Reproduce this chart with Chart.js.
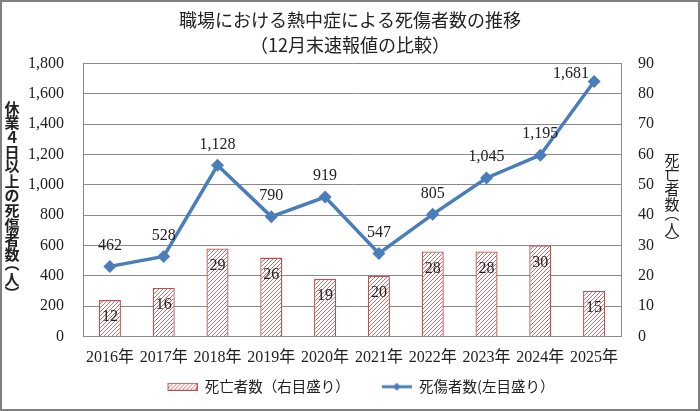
<!DOCTYPE html>
<html>
<head>
<meta charset="utf-8">
<script src="https://cdn.jsdelivr.net/npm/chart.js@4"></script>
<style>
html,body{margin:0;padding:0;background:#fff;}
#wrap{width:700px;height:411px;position:relative;}
</style>
</head>
<body>
<div id="wrap"><canvas id="c" width="700" height="411"></canvas></div>
<script>
// ---- data ----
const categories = ['2016年','2017年','2018年','2019年','2020年','2021年','2022年','2023年','2024年','2025年'];
const deaths = [12, 16, 29, 26, 19, 20, 28, 28, 30, 15];
const casualties = [462, 528, 1128, 790, 919, 547, 805, 1045, 1195, 1681];
const leftTicks = [0, 200, 400, 600, 800, 1000, 1200, 1400, 1600, 1800];
const rightTicks = [0, 10, 20, 30, 40, 50, 60, 70, 80, 90];
const titleLines = ['職場における熱中症による死傷者数の推移', '（12月末速報値の比較）'];
const deathsLabel = '死亡者数（右目盛り）';
const casualtiesLabel = '死傷者数(左目盛り）';
const leftAxisTitle = '休業４日以上の死傷者数︵人︶';
const rightAxisTitle = '死亡者数︵人︶';

const SERIF = "'Liberation Serif', 'Noto Sans CJK JP', serif";
const SANS = "'Noto Sans CJK JP', sans-serif";
const LINE_COLOR = '#4a7ebb';
const BAR_BORDER = '#c0504d';
const GRID = '#8a8a8a';

function hatch() {
  const c = document.createElement('canvas');
  c.width = 4; c.height = 4;
  const x = c.getContext('2d');
  x.fillStyle = '#ffffff'; x.fillRect(0,0,4,4);
  x.fillStyle = '#c27070';
  for (let i = 0; i < 4; i++) x.fillRect(i, 3 - i, 1, 1);
  return x.createPattern(c,'repeat');
}
const pattern = hatch();

function legendBarIcon() {
  const c = document.createElement('canvas');
  c.width = 52; c.height = 8;
  const x = c.getContext('2d');
  x.fillStyle = pattern; x.fillRect(22,0,30,8);
  x.strokeStyle = BAR_BORDER; x.lineWidth = 1; x.strokeRect(22.5,0.5,29,7);
  return c;
}
function legendLineIcon() {
  const c = document.createElement('canvas');
  c.width = 52; c.height = 12;
  const x = c.getContext('2d');
  x.strokeStyle = LINE_COLOR; x.lineWidth = 3;
  x.beginPath(); x.moveTo(22,6); x.lineTo(52,6); x.stroke();
  x.fillStyle = LINE_COLOR;
  x.beginPath(); x.moveTo(37,2); x.lineTo(41,6); x.lineTo(37,10); x.lineTo(33,6); x.closePath(); x.fill();
  return c;
}

const decor = {
  id: 'decor',
  beforeDraw(chart) {
    const ctx = chart.ctx;
    ctx.save(); ctx.fillStyle = '#fff'; ctx.fillRect(0,0,chart.width,chart.height); ctx.restore();
  },
  afterDatasetsDraw(chart) {
    const ctx = chart.ctx;
    ctx.save();
    ctx.fillStyle = '#222';
    ctx.font = '16px ' + SERIF;
    ctx.textAlign = 'center'; ctx.textBaseline = 'middle';
    // bar labels
    chart.getDatasetMeta(0).data.forEach((el, i) => {
      ctx.fillText(String(deaths[i]), el.x, el.y + 17);
    });
    // line labels
    const meta = chart.getDatasetMeta(1);
    meta.data.forEach((el, i) => {
      const t = casualties[i].toLocaleString('en-US');
      if (i === meta.data.length - 1) {
        ctx.fillText(t, el.x - 23, el.y - 8);
      } else {
        ctx.fillText(t, el.x, el.y - 21);
      }
    });
    ctx.restore();
  },
  afterDraw(chart) {
    const ctx = chart.ctx;
    ctx.save();
    ctx.fillStyle = '#222';
    ctx.textAlign = 'center'; ctx.textBaseline = 'middle';
    function vtext(str, x, y0, font, pitch) {
      ctx.font = font;
      let y = y0;
      const chars = Array.from(str);
      chars.forEach((ch, i) => {
        ctx.fillText(ch, x, y);
        const next = chars[i+1];
        if (next === '︵') y += pitch * 0.62;
        else if (ch === '︵') y += pitch * 1.1;
        else if (next === '︶') y += pitch * 0.95;
        else y += pitch;
      });
    }
    vtext(leftAxisTitle, 12, 108, 'bold 15px ' + SANS, 14.6);
    vtext(rightAxisTitle, 672, 160, '15px ' + SANS, 14.6);
    // outer frame
    ctx.strokeStyle = '#808080'; ctx.lineWidth = 2;
    ctx.strokeRect(1,1,chart.width-2,chart.height-2);
    ctx.restore();
  }
};

new Chart(document.getElementById('c'), {
  data: {
    labels: categories,
    datasets: [
      {
        type: 'bar',
        label: deathsLabel,
        data: deaths,
        yAxisID: 'y1',
        backgroundColor: pattern,
        borderColor: BAR_BORDER,
        borderWidth: 1.3,
        barPercentage: 0.82,
        categoryPercentage: 0.5,
        order: 1
      },
      {
        type: 'line',
        label: casualtiesLabel,
        data: casualties,
        yAxisID: 'y',
        borderColor: LINE_COLOR,
        backgroundColor: LINE_COLOR,
        borderWidth: 3.5,
        pointStyle: 'rectRot',
        pointRadius: 6.5,
        pointBorderWidth: 0,
        tension: 0,
        order: 0
      }
    ]
  },
  options: {
    responsive: false,
    animation: false,
    devicePixelRatio: 1,
    layout: { padding: { left: 0, right: 0, top: 0, bottom: 7 } },
    plugins: {
      tooltip: { enabled: false },
      title: {
        display: true,
        text: titleLines,
        color: '#222',
        font: { family: SANS, size: 18, weight: 'normal', lineHeight: 1.4 },
        padding: { top: 7.5, bottom: 5.5 }
      },
      legend: {
        position: 'bottom',
        labels: {
          usePointStyle: true,
          pointStyleWidth: 52,
          padding: 10,
          color: '#222',
          font: { family: SANS, size: 14.5 },
          generateLabels(chart) {
            return [
              { text: deathsLabel, pointStyle: legendBarIcon(), datasetIndex: 0, fontColor: '#222', lineWidth: 0, strokeStyle: 'transparent', fillStyle: 'transparent' },
              { text: casualtiesLabel, pointStyle: legendLineIcon(), datasetIndex: 1, fontColor: '#222', lineWidth: 0, strokeStyle: 'transparent', fillStyle: 'transparent' }
            ];
          }
        }
      }
    },
    scales: {
      x: {
        offset: true,
        grid: { display: true, drawOnChartArea: false, drawTicks: false, color: GRID },
        border: { display: true, color: GRID, width: 1 },
        ticks: { color: '#222', font: { family: SERIF, size: 16 }, padding: 12, maxRotation: 0, autoSkip: false },
        afterFit(s) { s.height = 33; }
      },
      y: {
        position: 'left',
        min: leftTicks[0], max: leftTicks[leftTicks.length-1],
        afterBuildTicks(s) { s.ticks = leftTicks.map(v => ({ value: v })); },
        grid: { color: GRID, lineWidth: 1, drawTicks: false },
        border: { display: true, color: GRID, width: 1 },
        ticks: { color: '#222', font: { family: SERIF, size: 16 }, padding: 19,
          callback: v => v.toLocaleString('en-US') },
        afterFit(s) { s.width = 83; }
      },
      y1: {
        position: 'right',
        min: rightTicks[0], max: rightTicks[rightTicks.length-1],
        afterBuildTicks(s) { s.ticks = rightTicks.map(v => ({ value: v })); },
        grid: { drawOnChartArea: false, drawTicks: false, color: GRID },
        border: { display: true, color: GRID, width: 1 },
        ticks: { color: '#222', font: { family: SERIF, size: 16 }, padding: 17 },
        afterFit(s) { s.width = 79; }
      }
    }
  },
  plugins: [decor]
});
</script>
</body>
</html>
